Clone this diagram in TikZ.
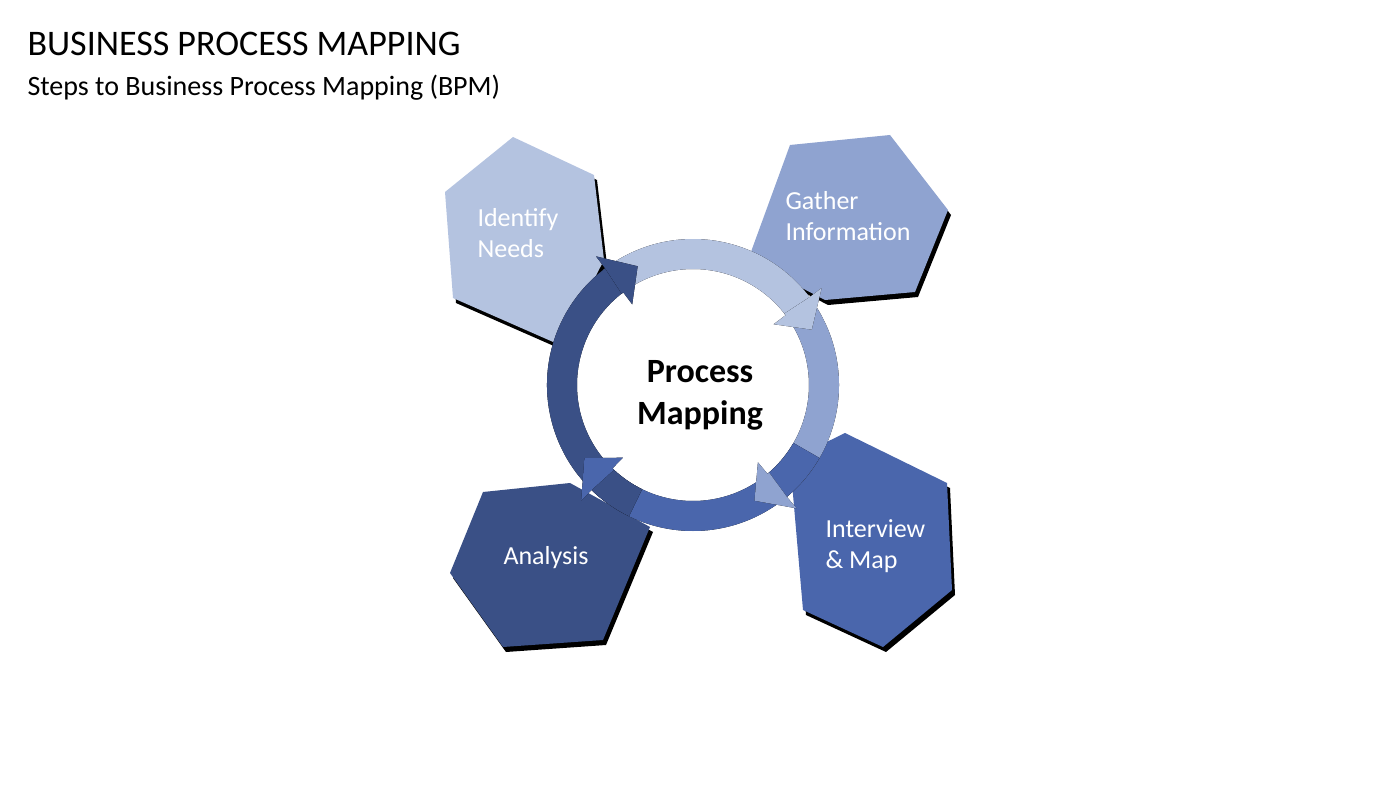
\documentclass[tikz,border=0pt]{standalone}
\usepackage{fontspec}
\setmainfont{Carlito}
\definecolor{cA}{HTML}{B4C3E0}
\definecolor{cB}{HTML}{8FA3D0}
\definecolor{cC}{HTML}{4A66AC}
\definecolor{cD}{HTML}{3A5086}
\tikzset{lbl/.style={text=white,font=\fontsize{26}{31}\selectfont,align=left,anchor=west}}
\newcommand{\hexa}[7]{%
 \fill[black,shift={(3pt,-5pt)}] #2--#3--#4--#5--#6--#7--cycle;
 \fill[#1] #2--#3--#4--#5--#6--#7--cycle;}
\newcommand{\ringbody}[3]{%
 \foreach \s/\c in {{(3pt,-5pt)}/black,{(0pt,0pt)}/#3}{
 \fill[\c,shift=\s] ($(C)+(#1:146)$) arc[start angle=#1,end angle=#2+11,radius=146]
  -- ($(C)+(#2+11:116)$)
  arc[start angle=#2+11,end angle=#1,radius=116] -- cycle;}}
\newcommand{\ringhead}[2]{%
 \foreach \s/\c in {{(3pt,-5pt)}/black,{(0pt,0pt)}/#2}{
 \fill[\c,shift=\s] ($(C)+(#1+12:146)$) -- ($(C)+(#1+12:161)$) -- ($(C)+(#1:131)$)
  -- ($(C)+(#1+12:101)$) -- ($(C)+(#1+12:116)$) arc[start angle=#1+12,end angle=#1+13,radius=116] -- cycle;}}
\usetikzlibrary{calc}
\begin{document}
\begin{tikzpicture}[x=1pt,y=1pt]
\useasboundingbox (0,0) rectangle (1400,788);
\coordinate (C) at (693,403);
\node[anchor=west,font=\fontsize{36}{40}\selectfont] (title) at (24,744) {BUSINESS PROCESS MAPPING};
\node[anchor=west,font=\fontsize{28}{32}\selectfont] (sub) at (24,700) {Steps to Business Process Mapping (BPM)};
\hexa{cA}{(445,596)}{(513,651)}{(594,613)}{(604,528)}{(560,443)}{(453,490)}
\hexa{cB}{(748,528)}{(790,643)}{(890,653)}{(948,578)}{(915,496)}{(825,488)}
\hexa{cC}{(790,328)}{(845,355)}{(947,305)}{(952,198)}{(883,141)}{(803,178)}
\hexa{cD}{(483,296)}{(570,305)}{(650,261)}{(603,148)}{(503,141)}{(450,215)}
\node[lbl] (n1) at (474,555) {Identify\\Needs};
\node[lbl] (n2) at (782,572) {Gather\\Information};
\node[lbl] (n3) at (822,242) {Interview\\\& Map};
\node[lbl] (n4) at (500,230) {Analysis};
\ringbody{128}{25}{cA}
\ringbody{34}{-62}{cB}
\ringbody{-30}{-146}{cC}
\ringbody{-116}{-245}{cD}
\ringhead{25}{cA}
\ringhead{-62}{cB}
\ringhead{-146}{cC}
\ringhead{-245}{cD}
\node[font=\bfseries\fontsize{34}{42}\selectfont,align=center] (center) at (700,393) {Process\\Mapping};
\end{tikzpicture}
\end{document}
